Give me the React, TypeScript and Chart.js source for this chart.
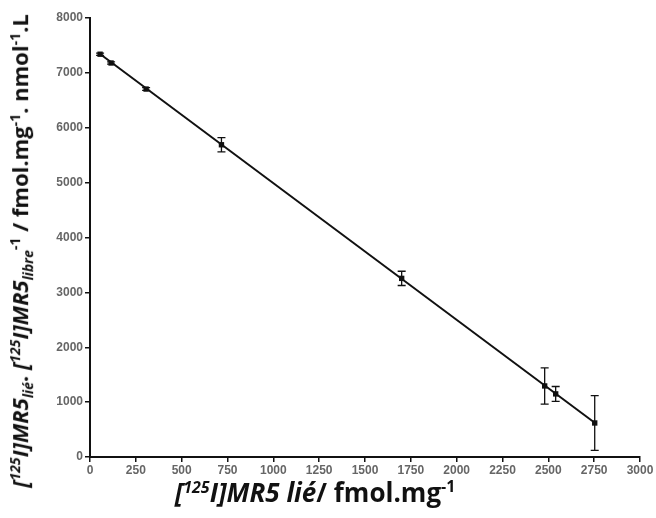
import React, { useEffect, useRef } from "react";
import { Chart, registerables } from "chart.js";

Chart.register(...registerables);

// Data
const boundX = [55, 115, 306, 717, 1700, 2480, 2540, 2753];
const ratioY = [7340, 7180, 6705, 5690, 3255, 1295, 1150, 620];
const ratioErr = [20, 20, 25, 130, 130, 330, 135, 500];
const fitX = [55, 2753];
const fitY = [7343, 625];
const xTickStep = 250;
const yTickStep = 1000;

const errorBarPlugin = {
  id: "errorBars",
  afterDatasetsDraw(chart: any) {
    const ctx = chart.ctx;
    const xs = chart.scales.x;
    const ys = chart.scales.y;
    ctx.save();
    ctx.strokeStyle = "#111";
    ctx.lineWidth = 1.3;
    for (let i = 0; i < boundX.length; i++) {
      const px = xs.getPixelForValue(boundX[i]);
      const top = ys.getPixelForValue(ratioY[i] + ratioErr[i]);
      const bot = ys.getPixelForValue(ratioY[i] - ratioErr[i]);
      ctx.beginPath();
      ctx.moveTo(px, top);
      ctx.lineTo(px, bot);
      ctx.moveTo(px - 4, top);
      ctx.lineTo(px + 4, top);
      ctx.moveTo(px - 4, bot);
      ctx.lineTo(px + 4, bot);
      ctx.stroke();
    }
    ctx.restore();
  },
};

export default function App() {
  const ref = useRef<HTMLCanvasElement>(null);
  useEffect(() => {
    if (!ref.current) return;
    const tickFont = { family: "'Liberation Sans', Arial, sans-serif", size: 12, weight: "bold" as const };
    const chart = new Chart(ref.current, {
      type: "scatter",
      data: {
        datasets: [
          {
            label: "fit",
            data: fitX.map((x, i) => ({ x, y: fitY[i] })),
            showLine: true,
            borderColor: "#111",
            borderWidth: 2,
            pointRadius: 0,
            order: 2,
          },
          {
            label: "data",
            data: boundX.map((x, i) => ({ x, y: ratioY[i] })),
            pointStyle: "rect",
            pointRadius: 3.8,
            backgroundColor: "#111",
            borderColor: "#111",
            borderWidth: 0,
            order: 1,
          },
        ],
      },
      options: {
        animation: false,
        responsive: false,
        layout: { padding: { top: 18, right: 16, left: 0, bottom: 0 } },
        plugins: { legend: { display: false }, tooltip: { enabled: false } },
        scales: {
          x: {
            type: "linear",
            min: 0,
            max: 3000,
            ticks: {
              stepSize: xTickStep,
              font: tickFont,
              color: "#666",
              padding: 1,
              maxRotation: 0,
              autoSkip: false,
              callback: (v: any) => String(v),
            },
            border: { color: "#111", width: 2 },
            grid: { drawOnChartArea: false, drawTicks: true, tickLength: 5, color: "#111", lineWidth: 1.5 },
            afterFit: (s: any) => { s.height = 61; },
          },
          y: {
            type: "linear",
            min: 0,
            max: 8000,
            ticks: {
              stepSize: yTickStep,
              font: tickFont,
              color: "#666",
              padding: 2,
              callback: (v: any) => String(v),
            },
            border: { color: "#111", width: 2 },
            grid: { drawOnChartArea: false, drawTicks: true, tickLength: 5, color: "#111", lineWidth: 1.5 },
            afterFit: (s: any) => { s.width = 90; },
          },
        },
      },
      plugins: [errorBarPlugin],
    });
    return () => chart.destroy();
  }, []);

  const titleFont = "'Open Sans', 'Liberation Sans', sans-serif";
  const ySup = { fontSize: 14 };
  const xSup = { fontSize: 16 };
  return (
    <div style={{ position: "absolute", left: 0, top: 0, width: 656, height: 518, background: "#fff" }}>
      <canvas ref={ref} width={656} height={518} style={{ position: "absolute", left: 0, top: 0 }} />
      <div
        style={{
          position: "absolute",
          left: 22,
          top: 251,
          transform: "translate(-50%, -50%) rotate(-90deg)",
          whiteSpace: "nowrap",
          fontFamily: titleFont,
          fontWeight: "bold",
          fontSize: 22,
          lineHeight: "26px",
          color: "#111",
        }}
      >
        <i>[<sup style={ySup}>125</sup>I]MR5<sub style={ySup}>lié</sub></i>.{" "}
        <i>[<sup style={ySup}>125</sup>I]MR5<sub style={ySup}>libre</sub></i>
        <sup style={ySup}>-1</sup> / fmol.mg<sup style={ySup}>-1</sup>. nmol
        <sup style={ySup}>-1</sup>.L
      </div>
      <div
        style={{
          position: "absolute",
          left: 315,
          top: 489,
          transform: "translate(-50%, -50%)",
          whiteSpace: "nowrap",
          fontFamily: titleFont,
          fontWeight: "bold",
          fontSize: 26,
          lineHeight: "28px",
          color: "#111",
        }}
      >
        <i>[<sup style={xSup}>125</sup>I]MR5 lié</i>/ fmol.mg<sup style={xSup}>-1</sup>
      </div>
    </div>
  );
}
